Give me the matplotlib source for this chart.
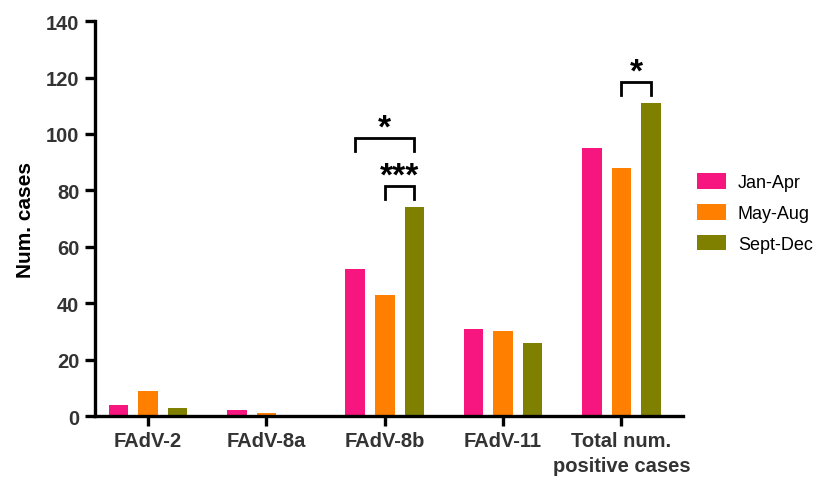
import matplotlib
matplotlib.use("Agg")
import matplotlib.pyplot as plt
import numpy as np

categories = ["FAdV-2", "FAdV-8a", "FAdV-8b", "FAdV-11", "Total num.\npositive cases"]
series_names = ["Jan-Apr", "May-Aug", "Sept-Dec"]
jan_apr = [4, 2, 52, 31, 95]
may_aug = [9, 1, 43, 30, 88]
sept_dec = [3, 0, 74, 26, 111]
colors = ["#F7157F", "#FF8000", "#808000"]

plt.rcParams['font.family'] = ['Liberation Sans', 'DejaVu Sans']

fig = plt.figure(figsize=(8.17, 4.81), dpi=100)
ax = fig.add_axes([0.116, 0.133, 0.72, 0.821])

x = np.arange(len(categories))
offset = 0.25
width = 0.165
for i, (vals, name, c) in enumerate(zip([jan_apr, may_aug, sept_dec], series_names, colors)):
    ax.bar(x + (i - 1) * offset, vals, width, color=c, label=name, linewidth=0)

ax.set_xlim(-0.45, 4.52)
ax.set_ylim(0, 140)
ax.set_yticks(np.arange(0, 141, 20))
ax.set_xticks(x)
ax.set_xticklabels(categories, fontsize=14.5, fontweight='bold', color='#333333',
                   linespacing=1.35)
for lab in ax.get_yticklabels():
    lab.set_fontsize(14.5)
    lab.set_fontweight('bold')
    lab.set_color('#333333')
ax.set_ylabel("Num. cases", fontsize=15, fontweight='bold', labelpad=8)

for s in ['top', 'right']:
    ax.spines[s].set_visible(False)
for s in ['left', 'bottom']:
    ax.spines[s].set_linewidth(2.4)
ax.tick_params(axis='both', width=2.4, length=7, direction='out', pad=4)

def bracket(x1, x2, y_top, y_bot, text):
    ax.plot([x1, x1, x2, x2], [y_bot, y_top, y_top, y_bot], color='black', lw=2.0,
            solid_joinstyle='miter', clip_on=False)
    ax.text((x1 + x2) / 2, y_top + 0.5, text, ha='center', va='baseline',
            fontsize=24, fontweight='bold', clip_on=False)

bracket(2 - offset, 2 + offset, 98.6, 94, "*")
bracket(2, 2 + offset, 81.6, 77, "***")
bracket(4, 4 + offset, 118.4, 113.8, "*")

leg = ax.legend(loc='center left', bbox_to_anchor=(1.012, 0.514), frameon=False,
                fontsize=13, handlelength=1.6, handleheight=0.95, labelspacing=0.7,
                handletextpad=0.65, borderaxespad=0.0)

fig.savefig("out.png", dpi=100)
